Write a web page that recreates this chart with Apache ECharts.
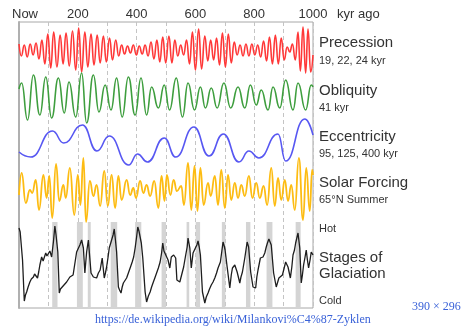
<!DOCTYPE html>
<html>
<head>
<meta charset="utf-8">
<script src="https://cdn.jsdelivr.net/npm/echarts@6/dist/echarts.min.js"></script>
<style>
html, body { margin: 0; padding: 0; background: #fff; }
#main { width: 464px; height: 328px; }
</style>
</head>
<body>
<div id="main"></div>
<script>
// all curves: [kyr ago, relative value] (peaks / troughs)
var precession = [[0,6],[8,-6],[18,5],[28,-7],[38,6],[48,-5],[58,7],[68,-9],[78,10],[88,-14],[98,16],[108,-18],[118,18],[129,-17],[140,15],[150,-14],[160,17],[171,-16],[182,19],[193,-20],[203,22],[213,-22],[224,18],[234,-17],[245,16],[255,-15],[266,15],[276,-13],[287,14],[297,-12],[308,12],[318,-10],[329,10],[339,-6],[349,5],[359,-4],[369,4],[379,-3],[389,5],[399,-5],[409,4],[419,-4],[429,5],[439,-6],[449,8],[459,-9],[469,10],[479,-12],[489,13],[499,-13],[510,14],[520,-13],[530,10],[540,-6],[550,5],[560,-5],[570,10],[580,-14],[590,18],[600,-20],[611,21],[621,-19],[632,14],[642,-11],[652,10],[662,-10],[672,12],[682,-15],[692,17],[702,-17],[712,16],[722,-13],[732,8],[742,-5],[752,5],[762,-6],[772,6],[782,-6],[792,6],[802,-5],[812,5],[822,-7],[832,9],[842,-11],[852,13],[862,-14],[872,15],[882,-14],[892,12],[902,-10],[912,3],[921,-2],[930,6],[940,-10],[949,18],[957,-21],[966,23],[975,-23],[983,21],[992,-22],[1000,-5]];

var obliquity = [[0,8],[9,14],[29,-23],[49,22],[71,-18],[91,20],[111,-21],[134,19],[154,-16],[170,15],[193,-20],[213,24],[230,-26],[253,22],[272,-15],[293,12],[313,-13],[332,19],[351,-20],[372,20],[395,-18],[415,19],[434,-18],[451,10],[474,-11],[494,12],[512,-13],[535,19],[556,-20],[575,14],[597,-13],[617,10],[634,-11],[654,9],[674,-11],[697,14],[720,-11],[745,10],[768,-11],[787,12],[807,-8],[824,7],[847,-13],[864,10],[887,-11],[907,17],[932,-13],[949,14],[975,-13],[994,12],[1000,10]];

var eccentricity = [[0,-10],[40,-15],[114,11],[152,-1],[216,17],[265,-9],[307,6],[373,-23],[403,-12],[437,-20],[494,4],[533,-15],[595,15],[646,-14],[695,8],[748,-20],[782,-9],[816,-16],[881,8],[907,-19],[972,23],[1000,7]];

var solarForcing = [[0,-5],[9,17],[23,-13],[37,0],[45,-3],[57,10],[68,-20],[83,15],[94,-8],[103,14],[113,-28],[126,26],[137,-11],[151,5],[159,-8],[173,22],[188,-25],[200,15],[209,-15],[219,32],[228,-32],[241,9],[253,-6],[264,5],[276,-16],[290,19],[302,-16],[315,15],[327,-18],[338,14],[349,-10],[366,10],[378,-5],[389,2],[398,-8],[412,9],[423,-3],[434,5],[446,-6],[460,9],[474,-18],[485,14],[495,-11],[503,15],[515,-5],[526,10],[537,-1],[552,4],[561,-15],[575,27],[586,-20],[597,24],[607,-21],[617,22],[628,-15],[643,7],[652,-6],[666,14],[677,-15],[688,20],[700,-18],[711,15],[722,-10],[734,7],[745,-8],[756,5],[768,-6],[782,14],[794,-8],[807,7],[819,-8],[832,4],[844,-15],[858,22],[870,-16],[881,12],[892,-10],[904,10],[915,-11],[926,5],[938,-20],[952,32],[966,-30],[977,22],[989,-21],[997,20],[1000,15]];

var glaciation = [[0,37],[4,33],[7,31],[12,5],[18,-36],[22,-30],[26,-27],[31,-22],[37,-17],[42,-14],[49,-12],[53,-9],[57,-8],[63,-13],[67,-7],[71,0],[77,8],[82,4],[86,3],[91,12],[95,9],[98,7],[105,14],[111,8],[117,23],[122,39],[126,30],[132,13],[137,-28],[141,-24],[145,-25],[150,-21],[156,-22],[162,-17],[168,-17],[173,-12],[179,-13],[184,-10],[188,-12],[196,13],[202,15],[207,20],[213,25],[219,17],[224,-8],[230,13],[236,25],[240,10],[245,-8],[249,-10],[253,-12],[258,-10],[264,-13],[270,-8],[276,-5],[283,7],[290,-13],[294,-8],[298,-2],[303,8],[307,17],[315,25],[320,30],[324,36],[328,25],[332,13],[338,-22],[342,-25],[347,-28],[351,-22],[355,-18],[360,-16],[366,-13],[372,-8],[378,-3],[385,3],[390,8],[395,17],[400,28],[404,38],[408,34],[412,35],[416,22],[421,7],[429,-27],[434,-37],[440,-31],[446,-27],[451,-22],[457,-17],[462,-13],[468,-8],[474,-3],[480,3],[485,12],[489,22],[493,14],[499,12],[507,5],[513,-3],[518,8],[526,10],[533,7],[537,-15],[542,-14],[547,-17],[552,-15],[560,-2],[567,10],[572,18],[575,27],[581,17],[586,-3],[592,12],[600,17],[605,20],[609,24],[613,18],[617,10],[624,-27],[632,-38],[637,-32],[643,-28],[648,-24],[654,-20],[660,-17],[666,-13],[672,-8],[677,-3],[685,3],[690,14],[694,23],[698,19],[701,15],[708,-2],[717,-23],[722,-10],[726,-3],[734,0],[742,-7],[751,-18],[755,-12],[760,-7],[768,7],[772,15],[776,23],[781,18],[788,-7],[796,-22],[805,-23],[809,-12],[813,-5],[821,7],[826,5],[830,8],[836,12],[841,18],[845,22],[850,26],[854,23],[858,20],[866,-8],[875,-22],[880,-17],[884,-13],[890,-12],[896,-10],[902,-3],[907,3],[915,-2],[923,-13],[928,-2],[932,10],[937,15],[941,22],[945,27],[949,32],[955,17],[960,-18],[964,-10],[968,0],[973,8],[977,15],[981,5],[985,-3],[990,5],[994,13],[1000,10]];

// interglacial (grey) bands, kyr ago
var interglacials = [[113,131],[197,217],[234,244],[312,334],[395,416],[485,500],[570,579],[601,616],[690,702],[772,787],[842,862],[941,958]];

var tickLabels = { 0: 'Now', 200: '200', 400: '400', 600: '600', 800: '800', 1000: '1000' };

var FONT = '"Liberation Sans", Arial, sans-serif';
var SERIF = '"Liberation Serif", "Times New Roman", serif';

var chart = echarts.init(document.getElementById('main'));

// panel layout (top, height, half range of values)
var panels = [
  { top: 27, height: 46, range: 23 },
  { top: 71, height: 52, range: 26 },
  { top: 118, height: 48, range: 24 },
  { top: 157, height: 66, range: 33 },
  { top: 222, height: 86, range: 43 }
];

var grids = [{ left: 19, top: 22, width: 294, height: 286, show: true, borderColor: '#a8a8a8', borderWidth: 1 }];
var xAxes = [{
  gridIndex: 0, type: 'value', position: 'top', min: 0, max: 1000, interval: 100,
  axisLine: { show: false }, axisTick: { show: false },
  axisLabel: {
    margin: 1, fontSize: 13, color: '#333', fontFamily: FONT,
    formatter: function (v) {
      if (v === 0) return '{n|Now}';
      return tickLabels[v] || '';
    },
    rich: { n: { fontSize: 13, color: '#333', fontFamily: FONT, padding: [0, 0, 0, 12] } }
  },
  splitLine: { show: true, lineStyle: { type: [4, 3], color: '#c4c4c4', width: 1 } }
}];
var yAxes = [{
  gridIndex: 0, type: 'value', min: 0, max: 1,
  axisLine: { show: true, lineStyle: { color: '#b0b0b0', width: 2 } },
  axisTick: { show: false }, axisLabel: { show: false }, splitLine: { show: false }
}];

panels.forEach(function (p, i) {
  grids.push({ left: 19, top: p.top, width: 294, height: p.height });
  xAxes.push({ gridIndex: i + 1, type: 'value', min: 0, max: 1000, show: false });
  yAxes.push({ gridIndex: i + 1, type: 'value', min: -p.range, max: p.range, show: false });
});

function curve(idx, data, color, width, smooth) {
  return {
    type: 'line', xAxisIndex: idx, yAxisIndex: idx, data: data,
    smooth: smooth, smoothMonotone: 'x', showSymbol: false, clip: false,
    lineStyle: { color: color, width: width }
  };
}

var glacSeries = curve(5, glaciation, '#1e1e1e', 1.3, false);
glacSeries.markArea = {
  silent: true,
  itemStyle: { color: '#d4d4d4' },
  data: interglacials.map(function (b) { return [{ xAxis: b[0] }, { xAxis: b[1] }]; })
};

function label(text, sub, top, gap) {
  return {
    text: text, subtext: sub, left: 319, top: top, padding: 0, itemGap: gap,
    textStyle: { fontSize: 15, fontWeight: 'normal', color: '#333', fontFamily: FONT, lineHeight: 16 },
    subtextStyle: { fontSize: 11, color: '#333', fontFamily: FONT }
  };
}

function small(text, left, top, size, color, family) {
  return { text: text, left: left, top: top, padding: 0,
    textStyle: { fontSize: size, fontWeight: 'normal', color: color, fontFamily: family } };
}

var option = {
  animation: false,
  backgroundColor: '#fff',
  title: [
    label('Precession', '19, 22, 24 kyr', 35, 4),
    label('Obliquity', '41 kyr', 83, 3),
    label('Eccentricity', '95, 125, 400 kyr', 129, 3),
    label('Solar Forcing', '65°N Summer', 175, 3),
    label('Stages of\nGlaciation', '', 250, 0),
    small('kyr ago', 337, 8, 13, '#333', FONT),
    small('Hot', 319, 223, 11, '#333', FONT),
    small('Cold', 319, 295, 11, '#333', FONT),
    small('https://de.wikipedia.org/wiki/Milankovi%C4%87-Zyklen', 95, 314, 12, '#3a62d8', SERIF),
    small('390 × 296', 412, 301, 12, '#3a62d8', SERIF)
  ],
  grid: grids,
  xAxis: xAxes,
  yAxis: yAxes,
  series: [
    curve(1, precession, '#ff3838', 1.6, true),
    curve(2, obliquity, '#3e9e3e', 1.6, true),
    curve(3, eccentricity, '#5757f2', 1.6, true),
    curve(4, solarForcing, '#fdbc12', 1.8, true),
    glacSeries
  ]
};

chart.setOption(option);
</script>
</body>
</html>
